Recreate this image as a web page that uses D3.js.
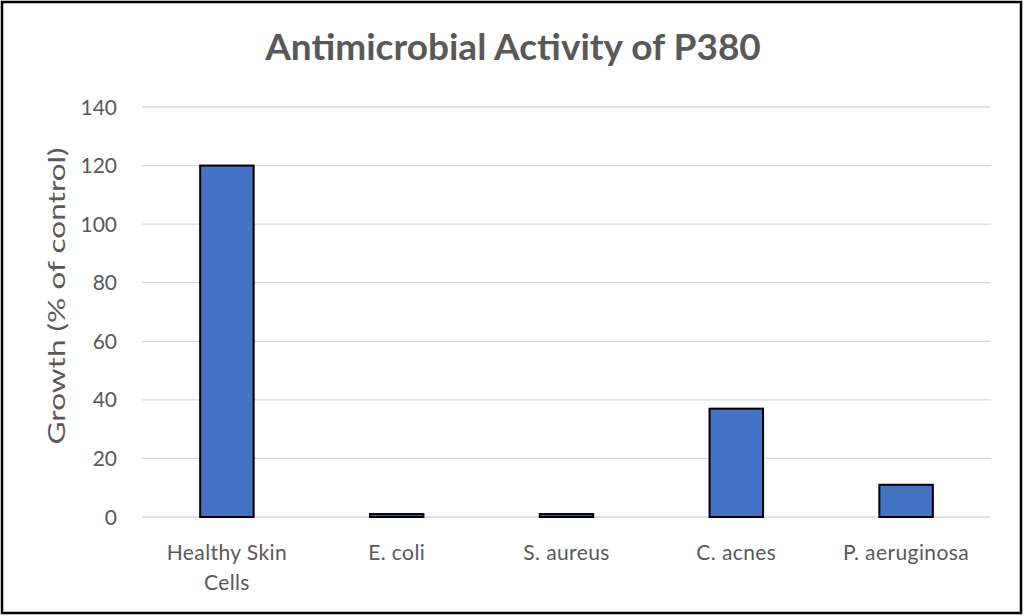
<!DOCTYPE html>
<html><head><meta charset="utf-8">
<script src="https://cdn.jsdelivr.net/npm/d3@7"></script>
<style>body{margin:0;background:#fff}svg{display:block}</style>
</head><body>
<svg id="c" width="1024" height="616"></svg>
<script>
const categories = [["Healthy Skin","Cells"],["E. coli"],["S. aureus"],["C. acnes"],["P. aeruginosa"]];
const values = [120, 1, 1, 37, 11];
const yTicks = [0,20,40,60,80,100,120,140];
const title = "Antimicrobial Activity of P380";
const yTitle = "Growth (% of control)";

const svg = d3.select("#c");
const font = "Lato, 'Open Sans', sans-serif";
const grey = "#595959";
svg.append("rect").attr("x",2).attr("y",2).attr("width",1019).attr("height",611)
  .attr("fill","#fff").attr("stroke","#000").attr("stroke-width",2.5);

const pLeft=142, pRight=991, pTop=107, pBottom=517;
const x = d3.scaleBand().domain(d3.range(categories.length)).range([pLeft,pRight]).paddingInner(0.685).paddingOuter(0.3425);
const y = d3.scaleLinear().domain([0,140]).range([pBottom,pTop]);

const g = svg.append("g");
g.selectAll("line.grid").data(yTicks).join("line")
  .attr("x1",pLeft).attr("x2",pRight).attr("y1",d=>y(d)).attr("y2",d=>y(d))
  .attr("stroke","#d9d9d9").attr("stroke-width",1.3);
g.selectAll("text.yt").data(yTicks).join("text")
  .attr("x",pLeft-25).attr("y",d=>y(d)).attr("dy","0.36em").attr("text-anchor","end")
  .attr("font-family",font).attr("font-size",21).attr("fill",grey).text(d=>d);

g.selectAll("rect.bar").data(values).join("rect")
  .attr("x",(d,i)=>x(i)).attr("width",x.bandwidth())
  .attr("y",d=>y(d)).attr("height",d=>y(0)-y(d))
  .attr("fill","#4472C4").attr("stroke","#000").attr("stroke-width",2);

categories.forEach((lines,i)=>{
  const cx = x(i)+x.bandwidth()/2;
  const t = g.append("text").attr("x",cx).attr("y",560)
    .attr("text-anchor","middle").attr("font-family",font).attr("font-size",21).attr("fill",grey)
    .attr("letter-spacing",0.4);
  lines.forEach((l,j)=>t.append("tspan").attr("x",cx).attr("dy",j?30:0).text(l));
});

svg.append("text").attr("x",513).attr("y",60).attr("text-anchor","middle")
  .attr("font-family",font).attr("font-weight","bold").attr("font-size",37).attr("fill",grey).text(title);
svg.append("text").attr("transform","translate(65,296) rotate(-90)").attr("text-anchor","middle")
  .attr("font-family",font).attr("font-size",24).attr("fill",grey)
  .attr("textLength",297).attr("lengthAdjust","spacingAndGlyphs").text(yTitle);
</script>
</body></html>
